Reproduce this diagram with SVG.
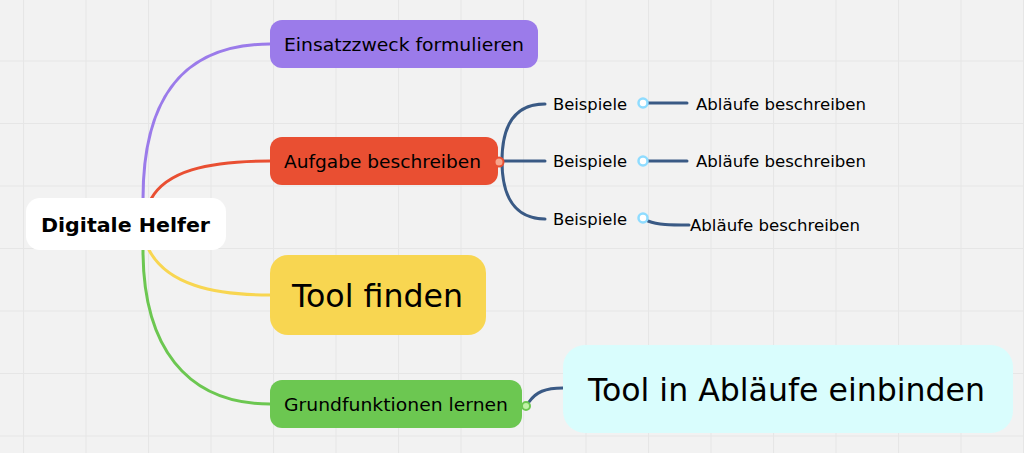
<svg xmlns="http://www.w3.org/2000/svg" width="1024" height="453" viewBox="0 0 1024 453">
<defs>
<pattern id="grid" x="23" y="-2" width="62.5" height="62.5" patternUnits="userSpaceOnUse">
<path d="M0.5 0 V62.5 M0 0.5 H62.5" fill="none" stroke="#e6e6e6" stroke-width="1.2"/>
</pattern>
<style>
.t{font-family:"DejaVu Sans","Verdana",sans-serif;fill:#000}
.c{fill:none;stroke-width:3;stroke-linecap:round}
.sub{stroke:#3a5a85}
</style>
</defs>
<rect width="1024" height="453" fill="#f2f2f2"/>
<rect width="1024" height="453" fill="url(#grid)"/>
<g id="connectors">
<path class="c" stroke="#9b7bea" d="M143 199 C143 95 185 44 270 44"/>
<path class="c" stroke="#e94f32" d="M151 199 C166 172 205 161 270 161"/>
<path class="c" stroke="#f8d651" d="M149 250 C167 284 212 295 270 295"/>
<path class="c" stroke="#6cc751" d="M143 250 C143 345 185 404 270 404"/>
<path class="c sub" d="M502 161 C502 125 515 104 545 104"/>
<path class="c sub" d="M502 161 H545"/>
<path class="c sub" d="M502 161 C502 197 515 219 545 219"/>
<path class="c sub" d="M648 103 H687"/>
<path class="c sub" d="M648 161 H687"/>
<path class="c sub" d="M648 221 C658 225 670 225 689 225"/>
<path class="c sub" d="M529 402 C536 392 545 388 563 388"/>
</g>
<g id="root">
<rect x="26" y="198" width="200" height="52" rx="14" fill="#ffffff"/>
<text class="t" x="41" y="232" font-size="20" font-weight="bold" textLength="169" lengthAdjust="spacingAndGlyphs">Digitale Helfer</text>
</g>
<g id="n1">
<rect x="270" y="20" width="268" height="48" rx="12" fill="#9b7bea"/>
<text class="t" x="284" y="51" font-size="18" textLength="240" lengthAdjust="spacingAndGlyphs">Einsatzzweck formulieren</text>
</g>
<g id="n2">
<rect x="270" y="137" width="228" height="48" rx="12" fill="#e94f32"/>
<text class="t" x="284" y="168" font-size="18" textLength="197" lengthAdjust="spacingAndGlyphs">Aufgabe beschreiben</text>
<circle cx="499" cy="162" r="4.5" fill="#f7a58c" stroke="#e94f32" stroke-width="2"/>
</g>
<g id="n3">
<rect x="270" y="255" width="216" height="80" rx="18" fill="#f8d651"/>
<text class="t" x="292" y="307" font-size="32" textLength="171" lengthAdjust="spacingAndGlyphs">Tool finden</text>
</g>
<g id="n4">
<rect x="270" y="380" width="252" height="48" rx="12" fill="#6cc751"/>
<text class="t" x="284" y="411" font-size="17" textLength="224" lengthAdjust="spacingAndGlyphs">Grundfunktionen lernen</text>
<circle cx="526" cy="406" r="4" fill="#c2f2a8" stroke="#6cc751" stroke-width="2"/>
</g>
<g id="n5">
<rect x="563" y="345" width="450" height="88" rx="22" fill="#d9fdfd"/>
<text class="t" x="588" y="401" font-size="32" textLength="397" lengthAdjust="spacingAndGlyphs">Tool in Abläufe einbinden</text>
</g>
<g id="b1">
<text class="t" x="553" y="110" font-size="15.5" textLength="74" lengthAdjust="spacingAndGlyphs">Beispiele</text>
<circle cx="643" cy="103" r="4.5" fill="#ffffff" stroke="#8fdcff" stroke-width="2.5"/>
</g>
<g id="b2">
<text class="t" x="553" y="167" font-size="15.5" textLength="74" lengthAdjust="spacingAndGlyphs">Beispiele</text>
<circle cx="643" cy="161" r="4.5" fill="#ffffff" stroke="#8fdcff" stroke-width="2.5"/>
</g>
<g id="b3">
<text class="t" x="553" y="225" font-size="15.5" textLength="74" lengthAdjust="spacingAndGlyphs">Beispiele</text>
<circle cx="643" cy="218" r="4.5" fill="#ffffff" stroke="#8fdcff" stroke-width="2.5"/>
</g>
<g id="a1"><text class="t" x="696" y="110" font-size="15.5" textLength="170" lengthAdjust="spacingAndGlyphs">Abläufe beschreiben</text></g>
<g id="a2"><text class="t" x="696" y="167" font-size="15.5" textLength="170" lengthAdjust="spacingAndGlyphs">Abläufe beschreiben</text></g>
<g id="a3"><text class="t" x="690" y="231" font-size="15.5" textLength="170" lengthAdjust="spacingAndGlyphs">Abläufe beschreiben</text></g>
</svg>
